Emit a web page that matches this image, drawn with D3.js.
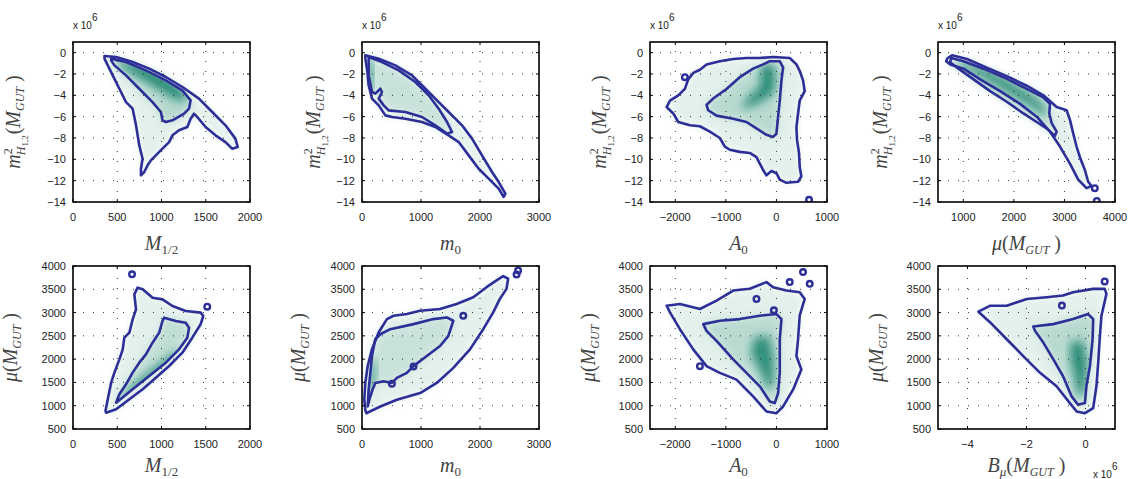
<!DOCTYPE html>
<html>
<head>
<meta charset="utf-8">
<script src="https://cdn.jsdelivr.net/npm/d3@7"></script>
<style>
  body { margin: 0; background: #fff; }
  svg { display: block; font-family: "Liberation Sans", Arial, sans-serif; }
  .tick-label { font-size: 11px; fill: #222; }
  .ax-label { font-family: "Liberation Serif", "DejaVu Serif", serif; font-style: italic; fill: #444; }
</style>
</head>
<body>
<div id="chart"></div>
<script>
// --------------------------------------
// Axis limits and ticks (top row y values are in units of 1e6)
const mhRange = [-14, 1];
const mhTicks = [0, -2, -4, -6, -8, -10, -12, -14];
const muRange = [500, 4000];
const muTicks = [500, 1000, 1500, 2000, 2500, 3000, 3500, 4000];
const m12Range = [0, 2000];
const m12Ticks = [0, 500, 1000, 1500, 2000];
const m0Range = [0, 3000];
const m0Ticks = [0, 1000, 2000, 3000];
const a0Range = [-2500, 1000];
const a0Ticks = [-2000, -1000, 0, 1000];
const muXRange = [500, 4000];
const muXTicks = [1000, 2000, 3000, 4000];
const bmuRange = [-5, 1];
const bmuTicks = [-4, -2, 0];

// --------------------------------------
// Contours: outer = 95%, inner = 68%, core = densest region
// Panel 1: M1/2 vs mH^2
const p1Outer = [[356,-0.31],[487,-0.41],[674,-0.88],[861,-1.5],[1049,-2.28],[1236,-3.22],[1423,-4.31],[1573,-5.56],[1723,-6.81],[1835,-8.06],[1861,-8.84],[1798,-9.0],[1723,-8.38],[1610,-7.75],[1498,-6.97],[1404,-6.03],[1367,-5.72],[1329,-6.19],[1292,-6.97],[1198,-7.28],[1124,-7.75],[1086,-8.38],[1011,-9.0],[936,-9.63],[880,-10.1],[843,-10.56],[805,-11.19],[768,-11.5],[768,-10.88],[786,-9.94],[749,-8.69],[712,-6.81],[674,-5.25],[599,-4.63],[524,-3.38],[449,-2.13],[393,-1.19],[356,-0.56]];
const p1Inner = [[431,-0.56],[599,-0.88],[824,-1.66],[1049,-2.59],[1236,-3.53],[1329,-4.47],[1311,-5.25],[1255,-5.72],[1124,-6.34],[1049,-6.5],[1011,-6.34],[993,-5.56],[899,-4.63],[749,-3.38],[599,-2.13],[468,-1.19],[431,-0.72]];
const p1Core = [[500,-0.6],[800,-1.3],[1050,-2.4],[1250,-3.6],[1290,-4.6],[1150,-4.3],[950,-3.3],[750,-2.3],[550,-1.3]];
const p1Blobs = [];

// Panel 2: m0 vs mH^2
const p2Outer = [[57,-0.25],[283,-0.56],[565,-1.19],[848,-2.13],[1074,-3.38],[1300,-4.63],[1469,-5.56],[1695,-6.81],[1865,-8.06],[2034,-9.63],[2204,-11.19],[2317,-12.13],[2430,-13.22],[2401,-13.53],[2317,-12.75],[2147,-11.81],[1978,-10.88],[1808,-9.63],[1639,-8.38],[1469,-7.75],[1243,-6.97],[1017,-6.5],[735,-6.19],[509,-6.03],[396,-5.88],[283,-4.94],[170,-4.31],[113,-3.06],[85,-1.5],[57,-0.56]];
const p2Inner = [[113,-0.41],[339,-0.88],[622,-1.66],[904,-2.75],[1130,-4.0],[1300,-5.25],[1441,-6.5],[1526,-7.44],[1441,-7.59],[1243,-6.81],[1017,-6.03],[735,-5.56],[452,-5.41],[367,-4.94],[283,-4.31],[339,-3.69],[311,-3.38],[226,-3.84],[170,-3.69],[113,-2.13],[113,-0.88]];
const p2Core = [[60,-0.5],[150,-0.7],[180,-2.5],[160,-4.0],[110,-4.0],[80,-2.5]];
const p2Blobs = [];

// Panel 3: A0 vs mH^2
const p3Outer = [[-66,-0.4],[263,-0.5],[395,-1.1],[460,-1.7],[526,-2.6],[559,-3.6],[460,-4.5],[428,-5.7],[395,-7.0],[408,-8.2],[447,-9.4],[460,-10.7],[493,-11.6],[428,-12.1],[197,-12.2],[66,-11.9],[0,-11.3],[-99,-11.1],[-197,-11.5],[-263,-11.0],[-329,-10.4],[-395,-9.8],[-526,-9.4],[-724,-9.3],[-921,-9.1],[-1020,-8.8],[-1119,-8.0],[-1316,-7.4],[-1513,-6.9],[-1711,-6.8],[-1941,-6.5],[-2040,-5.7],[-2171,-5.1],[-2105,-4.5],[-1941,-4.0],[-1810,-3.4],[-1744,-2.5],[-1645,-1.9],[-1513,-1.6],[-1382,-1.1],[-1119,-0.8],[-855,-0.6],[-592,-0.5],[-329,-0.5]];
const p3Inner = [[-132,-0.8],[66,-0.8],[132,-1.4],[99,-2.6],[66,-4.5],[33,-6.0],[0,-7.6],[-66,-7.9],[-197,-7.7],[-395,-7.1],[-592,-6.5],[-855,-6.2],[-1184,-5.9],[-1349,-5.4],[-1382,-4.9],[-1250,-4.3],[-987,-3.4],[-724,-2.3],[-461,-1.5],[-263,-1.1]];
const p3Core = [[-300,-1.2],[-80,-1.0],[-20,-2.2],[-60,-3.8],[-250,-4.4],[-500,-5.0],[-700,-5.2],[-550,-4.2],[-320,-3.2]];
const p3Blobs = [[-1810,-2.3],[645,-13.8]];

// Panel 4: mu vs mH^2
const p4Outer = [[690,-0.5],[780,-0.25],[1072,-0.6],[1466,-1.4],[1860,-2.2],[2254,-3.1],[2583,-4.0],[2846,-5.1],[3043,-5.4],[3109,-6.3],[3175,-7.6],[3240,-8.8],[3306,-9.8],[3404,-11.0],[3470,-12.1],[3536,-12.5],[3437,-12.7],[3273,-11.9],[3109,-10.4],[2912,-8.8],[2714,-7.4],[2451,-6.0],[2123,-4.8],[1729,-3.6],[1334,-2.5],[1006,-1.5],[743,-1.1],[660,-0.8]];
const p4Inner = [[760,-0.5],[1006,-0.8],[1400,-1.5],[1794,-2.3],[2254,-3.4],[2583,-4.2],[2714,-4.8],[2701,-5.7],[2747,-6.6],[2846,-7.4],[2813,-7.8],[2648,-7.1],[2451,-6.5],[2189,-5.7],[1860,-4.6],[1531,-3.6],[1203,-2.5],[875,-1.4],[740,-0.9]];
const p4Core = [[900,-0.6],[1400,-1.4],[1900,-2.6],[2400,-4.1],[2650,-5.3],[2600,-5.9],[2300,-4.9],[1800,-3.5],[1300,-2.1],[950,-1.2]];
const p4Blobs = [[3600,-12.7],[3640,-13.9]];

// Panel 5: M1/2 vs mu
const p5Outer = [[375,851],[487,923],[637,1137],[787,1352],[936,1602],[1086,1853],[1236,2139],[1348,2461],[1442,2748],[1472,2926],[1442,2998],[1273,3034],[1124,3141],[1011,3284],[899,3320],[787,3499],[730,3535],[693,3392],[712,3070],[674,2855],[637,2569],[580,2461],[562,2211],[524,1996],[468,1710],[431,1495],[393,1137],[367,887]];
const p5Inner = [[487,1066],[674,1352],[861,1638],[1049,1924],[1198,2211],[1292,2461],[1311,2676],[1273,2783],[1161,2819],[1030,2891],[1011,2819],[974,2569],[899,2354],[824,2103],[749,1924],[674,1710],[599,1459],[524,1245]];
const p5Core = [[520,1050],[700,1300],[900,1560],[1100,1850],[1250,2150],[1150,2150],[950,1850],[780,1600],[600,1300]];
const p5Blobs = [[667,3821],[1517,3127]];

// Panel 6: m0 vs mu
const p6Outer = [[73,839],[310,984],[591,1128],[985,1272],[1267,1489],[1548,1813],[1830,2210],[2055,2643],[2224,3004],[2336,3293],[2449,3509],[2477,3726],[2393,3784],[2280,3690],[2111,3545],[1886,3329],[1604,3185],[1323,3076],[985,3040],[760,2968],[535,2932],[422,2860],[282,2571],[169,2211],[96,1850],[56,1489],[39,1128],[56,911]];
const p6Inner = [[96,984],[130,1150],[180,1350],[225,1489],[366,1525],[507,1489],[591,1597],[760,1706],[873,1850],[1098,2066],[1323,2283],[1464,2499],[1548,2824],[1436,2896],[1210,2860],[873,2752],[479,2643],[310,2535],[225,2427],[169,2066],[141,1705],[113,1344]];
const p6Core = [[80,1000],[130,1100],[200,1500],[230,2000],[170,2000],[110,1600]];
const p6Blobs = [[2646,3906],[2620,3820],[1717,2932],[507,1470],[873,1840]];

// Panel 7: A0 vs mu
const p7Outer = [[-2171,3148],[-1908,3185],[-1513,3076],[-1184,3257],[-855,3473],[-526,3510],[-197,3654],[-66,3545],[197,3473],[460,3437],[559,3293],[460,2932],[428,2427],[395,2066],[493,1778],[329,1344],[132,984],[0,840],[-197,876],[-461,1200],[-790,1561],[-1119,1705],[-1382,1850],[-1645,2210],[-1908,2643],[-2105,3004]];
const p7Inner = [[-1447,2752],[-1119,2824],[-724,2860],[-329,2932],[0,2968],[99,2860],[66,2427],[66,1706],[33,1272],[-33,1056],[-132,1092],[-329,1417],[-592,1706],[-855,1994],[-1184,2391],[-1382,2607]];
const p7Core = [[-450,2450],[-150,2500],[-50,2000],[-60,1450],[-180,1350],[-300,1700],[-500,2100]];
const p7Blobs = [[-1513,1850],[-395,3293],[263,3654],[526,3870],[658,3618],[-50,3050]];

// Panel 8: Bmu vs mu (x in units of 1e6)
const p8Outer = [[-3.63,3019],[-3.23,3148],[-2.67,3148],[-1.99,3293],[-1.32,3329],[-0.76,3365],[-0.42,3437],[0.26,3509],[0.65,3509],[0.71,3401],[0.54,2932],[0.48,2427],[0.43,1922],[0.37,1417],[0.26,948],[-0.02,840],[-0.30,876],[-0.53,1056],[-0.98,1417],[-1.54,1706],[-2.11,2066],[-2.67,2427],[-3.23,2788]];
const p8Inner = [[-1.77,2701],[-1.09,2752],[-0.42,2860],[0.09,2968],[0.26,2860],[0.24,2427],[0.15,1850],[0.03,1417],[-0.02,1056],[-0.25,1020],[-0.47,1200],[-0.76,1633],[-1.09,1994],[-1.43,2355],[-1.71,2607]];
const p8Core = [[-0.5,2350],[-0.1,2400],[0.05,1900],[0.0,1300],[-0.25,1200],[-0.35,1600],[-0.5,2000]];
const p8Blobs = [[0.65,3668],[-0.8,3150]];

// --------------------------------------
// Label pieces: [text, size, dy, dx, upright]
const lblM12 = [["M",20],["1/2",13,4,0,1]];
const lblM0 = [["m",20],["0",13,4,0,1]];
const lblA0 = [["A",20],["0",13,4,0,1]];
const lblMuGut = [["μ",20],["(",20,0,0,1],["M",20],["GUT",12,4],[" )",20,-4,0,1]];
const lblMh = [["m",20],["2",12,-8,0,1],["H",12,13,-7],["1,2",9,3,0,1],["(",20,-8,1,1],["M",20],["GUT",12,4],[" )",20,-4,0,1]];
const lblBmu = [["B",20],["μ",13,4],["(",20,-4,0,1],["M",20],["GUT",12,4],[" )",20,-4,0,1]];

const panels = [
  { outer: p1Outer, inner: p1Inner, core: p1Core, blobs: p1Blobs, xr: m12Range, xt: m12Ticks, yr: mhRange, yt: mhTicks, xl: lblM12, yl: lblMh },
  { outer: p2Outer, inner: p2Inner, core: p2Core, blobs: p2Blobs, xr: m0Range, xt: m0Ticks, yr: mhRange, yt: mhTicks, xl: lblM0, yl: lblMh },
  { outer: p3Outer, inner: p3Inner, core: p3Core, blobs: p3Blobs, xr: a0Range, xt: a0Ticks, yr: mhRange, yt: mhTicks, xl: lblA0, yl: lblMh },
  { outer: p4Outer, inner: p4Inner, core: p4Core, blobs: p4Blobs, xr: muXRange, xt: muXTicks, yr: mhRange, yt: mhTicks, xl: lblMuGut, yl: lblMh },
  { outer: p5Outer, inner: p5Inner, core: p5Core, blobs: p5Blobs, xr: m12Range, xt: m12Ticks, yr: muRange, yt: muTicks, xl: lblM12, yl: lblMuGut },
  { outer: p6Outer, inner: p6Inner, core: p6Core, blobs: p6Blobs, xr: m0Range, xt: m0Ticks, yr: muRange, yt: muTicks, xl: lblM0, yl: lblMuGut },
  { outer: p7Outer, inner: p7Inner, core: p7Core, blobs: p7Blobs, xr: a0Range, xt: a0Ticks, yr: muRange, yt: muTicks, xl: lblA0, yl: lblMuGut },
  { outer: p8Outer, inner: p8Inner, core: p8Core, blobs: p8Blobs, xr: bmuRange, xt: bmuTicks, yr: muRange, yt: muTicks, xl: lblBmu, yl: lblMuGut }
];

// --------------------------------------
// Layout
const W = 1129, H = 479;
const boxLeft = [73, 362, 650, 938];
const boxW = 177;
const rowTop = [42, 266];
const rowH = [160, 163];
const yLabelOff = [53, 42, 44, 51, 56, 57, 55, 55];
const xLabelBase = [250, 472];
// shading strength per panel (mid layer opacity, core opacity)
const midOp = [0.8, 0.45, 0.75, 0.7, 0.6, 0.45, 0.7, 0.75];
const coreOp = [0.9, 0.85, 0.85, 0.8, 0.9, 0.85, 0.8, 0.85];

const contourColor = "#2c2f98";

const svg = d3.select("#chart").append("svg")
  .attr("width", W).attr("height", H)
  .attr("viewBox", `0 0 ${W} ${H}`);

const defs = svg.append("defs");
[["blurS", 2.5], ["blurM", 4], ["blurL", 5]].forEach(([id, s]) => {
  defs.append("filter").attr("id", id)
    .attr("x", "-30%").attr("y", "-30%").attr("width", "160%").attr("height", "160%")
    .append("feGaussianBlur").attr("stdDeviation", s);
});

const fmt = d3.format("d");

function addParts(text, parts) {
  parts.forEach(([t, s, dy, dx, up]) => {
    const ts = text.append("tspan").attr("font-size", s).text(t);
    if (dy) ts.attr("dy", dy);
    if (dx) ts.attr("dx", dx);
    if (up) ts.style("font-style", "normal");
  });
}

panels.forEach((p, i) => {
  const row = Math.floor(i / 4), col = i % 4;
  const x0 = boxLeft[col], y0 = rowTop[row], h = rowH[row];
  const x = d3.scaleLinear().domain(p.xr).range([x0, x0 + boxW]);
  const y = d3.scaleLinear().domain(p.yr).range([y0 + h, y0]);
  const g = svg.append("g");

  const line = d3.line().x(d => x(d[0])).y(d => y(d[1])).curve(d3.curveLinearClosed);

  defs.append("clipPath").attr("id", "clip" + i)
    .append("rect").attr("x", x0).attr("y", y0).attr("width", boxW).attr("height", h);
  // dense core stays inside the 68% contour
  defs.append("clipPath").attr("id", "innerClip" + i)
    .append("path").attr("d", line(p.inner));

  const plot = g.append("g").attr("clip-path", `url(#clip${i})`);

  // density shading
  plot.append("path").datum(p.outer).attr("d", line)
    .attr("fill", "#e3f0ec").attr("filter", "url(#blurM)");
  plot.append("path").datum(p.inner).attr("d", line)
    .attr("fill", "#a9d2c6").attr("opacity", midOp[i]).attr("filter", "url(#blurM)");
  plot.append("g").attr("clip-path", `url(#innerClip${i})`)
    .append("path").datum(p.core).attr("d", line)
    .attr("fill", "#0b7d68").attr("opacity", coreOp[i]).attr("filter", "url(#blurL)");

  // grid
  const grid = g.append("g").attr("stroke", "#333").attr("stroke-width", 1)
    .attr("stroke-dasharray", "1,9").attr("fill", "none");
  p.xt.filter(v => v > p.xr[0] && v < p.xr[1]).forEach(v => {
    grid.append("line").attr("x1", x(v)).attr("x2", x(v)).attr("y1", y0 + h).attr("y2", y0);
  });
  p.yt.filter(v => v > p.yr[0] && v < p.yr[1]).forEach(v => {
    grid.append("line").attr("y1", y(v)).attr("y2", y(v)).attr("x1", x0).attr("x2", x0 + boxW);
  });

  // contours
  [p.outer, p.inner].forEach(c => {
    plot.append("path").datum(c).attr("d", line)
      .attr("fill", "none").attr("stroke", contourColor)
      .attr("stroke-width", 2.6).attr("stroke-linejoin", "round");
  });
  plot.selectAll("circle.blob").data(p.blobs).join("circle")
    .attr("class", "blob")
    .attr("cx", d => x(d[0])).attr("cy", d => y(d[1])).attr("r", 2.8)
    .attr("fill", "none").attr("stroke", contourColor).attr("stroke-width", 2.4);

  // ticks
  const tk = g.append("g").attr("stroke", "#000").attr("stroke-width", 1);
  p.xt.forEach(v => {
    tk.append("line").attr("x1", x(v)).attr("x2", x(v)).attr("y1", y0 + h).attr("y2", y0 + h - 3);
    tk.append("line").attr("x1", x(v)).attr("x2", x(v)).attr("y1", y0).attr("y2", y0 + 3);
    g.append("text").attr("class", "tick-label").attr("x", x(v)).attr("y", y0 + h + 19)
      .attr("text-anchor", "middle").text(fmt(v));
  });
  p.yt.forEach(v => {
    tk.append("line").attr("y1", y(v)).attr("y2", y(v)).attr("x1", x0).attr("x2", x0 + 3);
    tk.append("line").attr("y1", y(v)).attr("y2", y(v)).attr("x1", x0 + boxW).attr("x2", x0 + boxW - 3);
    g.append("text").attr("class", "tick-label").attr("x", x0 - 7).attr("y", y(v) + 4)
      .attr("text-anchor", "end").text(fmt(v));
  });

  // box
  g.append("rect").attr("x", x0).attr("y", y0).attr("width", boxW).attr("height", h)
    .attr("fill", "none").attr("stroke", "#000").attr("stroke-width", 1.6);

  // axis labels
  const xt = g.append("text").attr("class", "ax-label")
    .attr("x", x0 + boxW / 2).attr("y", xLabelBase[row]).attr("text-anchor", "middle");
  addParts(xt, p.xl);
  const yt = g.append("text").attr("class", "ax-label").attr("text-anchor", "middle")
    .attr("transform", `translate(${x0 - yLabelOff[i]},${y0 + h / 2}) rotate(-90)`);
  addParts(yt, p.yl);

  // exponent labels
  if (row === 0) {
    const e = g.append("text").attr("class", "tick-label").attr("x", x0).attr("y", y0 - 13);
    e.append("tspan").attr("font-size", 10).text("x 10");
    e.append("tspan").attr("font-size", 10).attr("dy", -8).text("6");
  }
  if (i === 7) {
    const e = g.append("text").attr("class", "tick-label").attr("x", x0 + boxW - 22).attr("y", H - 1);
    e.append("tspan").attr("font-size", 10).text("x 10");
    e.append("tspan").attr("font-size", 10).attr("dy", -8).text("6");
  }
});
</script>
</body>
</html>
